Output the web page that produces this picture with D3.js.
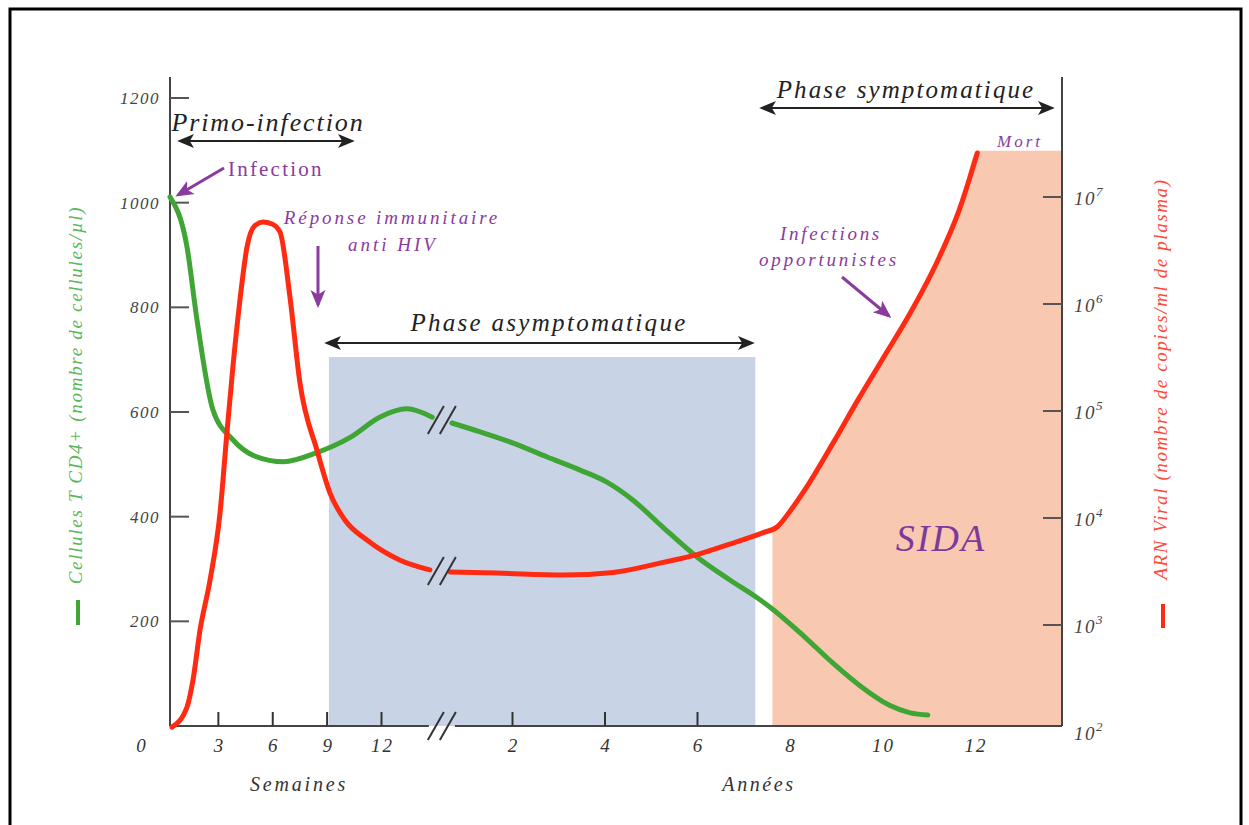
<!DOCTYPE html>
<html>
<head>
<meta charset="utf-8">
<script src="https://cdn.jsdelivr.net/npm/d3@7"></script>
<style>
body { margin: 0; background: #fff; }
text { font-family: "Liberation Serif", "DejaVu Serif", serif; }
</style>
</head>
<body>
<div id="chart"></div>
<script>
// ticks / labels
var weekTicks = [3, 6, 9, 12];
var weekLabels = [0, 3, 6, 9, 12];
var yearTicks = [2, 4, 6];
var yearLabels = [2, 4, 6, 8, 10, 12];
var cd4Ticks = [200, 400, 600, 800, 1000, 1200];
var rnaExponents = [3, 4, 5, 6, 7];

// CD4 T cells (cells/µl): [time, value]
var cd4Weeks = [[0.33, 1011], [1.27, 915], [1.82, 776], [2.7, 604], [3.8, 547], [5.0, 516],
    [6.6, 505], [8.4, 522], [10.3, 552], [11.9, 590], [13.4, 606], [14.8, 590]];
var cd4Years = [[0.69, 579], [1.3, 562], [2.0, 541], [2.75, 514], [3.46, 489], [4.04, 466],
    [4.6, 432], [5.25, 380], [5.99, 323], [6.7, 279], [7.29, 245], [7.57, 227], [8.32, 170],
    [8.93, 120], [9.54, 75], [10.14, 40], [10.6, 25], [10.98, 21]];

// viral RNA (copies/ml): [time, value]
var rnaWeeks = [[0.44, 111], [1.27, 171], [1.6, 306], [1.99, 900], [2.54, 2630], [3.09, 11100],
    [3.47, 62000], [3.8, 257000], [4.19, 1090000], [4.58, 3410000], [5.0, 5370000], [5.46, 5830000],
    [5.96, 5600000], [6.4, 4710000], [6.95, 1160000], [7.5, 183000], [8.44, 43000], [9.16, 17100],
    [9.98, 9570], [11.2, 6220], [13.0, 4050], [14.67, 3270]];
var rnaYears = [[0.65, 3130], [1.66, 3060], [3.1, 2930], [4.18, 3100], [5.26, 3850], [5.99, 4550],
    [6.7, 5700], [7.42, 7300], [7.72, 8240], [8.02, 11900], [8.32, 18300], [8.93, 50100],
    [9.47, 127000], [9.99, 300000], [10.6, 824000], [11.2, 2580000], [11.66, 7570000], [12.05, 25800000]];

var deathLevel = 27000000;
var asymptomatic = { fromWeek: 9.1, toYear: 7.25, top: 705 };
var aidsFromYear = 7.62;

var W = 1249, H = 825;
var axisLeft = 170, axisRight = 1062, axisBottom = 726, axisTop = 77;

var svg = d3.select("#chart").append("svg")
    .attr("width", W)
    .attr("height", H);

svg.append("rect").attr("width", W).attr("height", H).attr("fill", "#fff");
svg.append("rect")
    .attr("x", 10).attr("y", 9).attr("width", 1231).attr("height", 840)
    .attr("fill", "none").attr("stroke", "#000").attr("stroke-width", 3);

var xW = d3.scaleLinear().domain([0, 12]).range([164, 381.5]);
var xY = d3.scaleLinear().domain([0, 12]).range([420, 975]);
var yL = d3.scaleLinear().domain([0, 1200]).range([axisBottom, 98]);
var yR = d3.scaleLog().domain([1e3, 1e7]).range([625, 197]);

var breakX = (xW(14.8) + xY(0.68)) / 2;

var defs = svg.append("defs");
function marker(id, color, w, h) {
    defs.append("marker")
        .attr("id", id)
        .attr("viewBox", "0 0 12 10")
        .attr("refX", 10).attr("refY", 5)
        .attr("markerUnits", "userSpaceOnUse")
        .attr("markerWidth", w).attr("markerHeight", h)
        .attr("orient", "auto-start-reverse")
        .append("path")
        .attr("d", "M0,0 L12,5 L0,10 L3,5 Z")
        .attr("fill", color);
}
marker("headBlack", "#222", 18, 14);
marker("headPurple", "#8b3a9e", 18, 16);

defs.append("clipPath").attr("id", "aidsClip")
    .append("rect")
    .attr("x", xY(aidsFromYear)).attr("y", 0)
    .attr("width", axisRight - xY(aidsFromYear)).attr("height", axisBottom);

// helper for the italic serif labels
function label(x, y, txt, size, color, spacing, anchor, italic) {
    return svg.append("text")
        .attr("x", x).attr("y", y)
        .attr("text-anchor", anchor || "middle")
        .attr("font-size", size)
        .attr("font-style", italic === false ? "normal" : "italic")
        .attr("letter-spacing", spacing)
        .attr("fill", color)
        .text(txt);
}

// background phases
svg.append("rect")
    .attr("x", xW(asymptomatic.fromWeek))
    .attr("y", yL(asymptomatic.top))
    .attr("width", xY(asymptomatic.toYear) - xW(asymptomatic.fromWeek))
    .attr("height", axisBottom - yL(asymptomatic.top))
    .attr("fill", "#c9d3e6");

var pinkData = rnaYears.slice(0, -1).concat([[12.05, deathLevel], [xY.invert(axisRight), deathLevel]]);
svg.append("path")
    .datum(pinkData)
    .attr("clip-path", "url(#aidsClip)")
    .attr("fill", "#f9c8b1")
    .attr("d", d3.area()
        .x(function(d) { return xY(d[0]); })
        .y0(axisBottom)
        .y1(function(d) { return yR(d[1]); })
        .curve(d3.curveMonotoneX));

label(941, 551, "SIDA", 38, "#7d3a9c", 2);

// axes
var axisColor = "#444";
svg.append("line").attr("x1", axisLeft).attr("x2", axisLeft).attr("y1", axisTop).attr("y2", axisBottom)
    .attr("stroke", axisColor).attr("stroke-width", 2);
svg.append("line").attr("x1", axisRight).attr("x2", axisRight).attr("y1", axisTop).attr("y2", axisBottom)
    .attr("stroke", axisColor).attr("stroke-width", 2);
svg.append("line").attr("x1", axisLeft).attr("x2", breakX - 13).attr("y1", axisBottom).attr("y2", axisBottom)
    .attr("stroke", axisColor).attr("stroke-width", 2);
svg.append("line").attr("x1", breakX + 13).attr("x2", axisRight).attr("y1", axisBottom).attr("y2", axisBottom)
    .attr("stroke", axisColor).attr("stroke-width", 2);

svg.selectAll(".cd4tick").data(cd4Ticks).enter().append("line")
    .attr("x1", axisLeft).attr("x2", axisLeft + 19)
    .attr("y1", function(d) { return yL(d); }).attr("y2", function(d) { return yL(d); })
    .attr("stroke", "#555").attr("stroke-width", 2);
cd4Ticks.forEach(function(d) {
    label(160, yL(d) + 6, d, 17, "#444", 1.5, "end");
});

svg.selectAll(".rnatick").data(rnaExponents).enter().append("line")
    .attr("x1", axisRight - 19).attr("x2", axisRight)
    .attr("y1", function(d) { return yR(Math.pow(10, d)); }).attr("y2", function(d) { return yR(Math.pow(10, d)); })
    .attr("stroke", "#555").attr("stroke-width", 2);
var rnaLab = svg.selectAll(".rnalabel").data(rnaExponents.concat([2])).enter().append("text")
    .attr("x", 1074).attr("y", function(d) { return yR(Math.pow(10, d)) + 8; })
    .attr("font-size", 19).attr("font-style", "italic").attr("letter-spacing", 1.5).attr("fill", "#444");
rnaLab.append("tspan").text("10");
rnaLab.append("tspan").attr("dy", -9).attr("font-size", 13).text(function(d) { return d; });

svg.selectAll(".wtick").data(weekTicks).enter().append("line")
    .attr("x1", function(d) { return xW(d); }).attr("x2", function(d) { return xW(d); })
    .attr("y1", axisBottom).attr("y2", axisBottom - 14)
    .attr("stroke", "#333").attr("stroke-width", 2);
svg.selectAll(".ytick").data(yearTicks).enter().append("line")
    .attr("x1", function(d) { return xY(d); }).attr("x2", function(d) { return xY(d); })
    .attr("y1", axisBottom).attr("y2", axisBottom - 14)
    .attr("stroke", "#333").attr("stroke-width", 2);
weekLabels.forEach(function(d) {
    label(d === 0 ? 142 : xW(d) + 1, 752, d, 19, "#333", 2);
});
yearLabels.forEach(function(d) {
    label(xY(d) + 1, 752, d, 19, "#333", 2);
});

label(299, 791, "Semaines", 20, "#333", 2.8);
label(759, 791, "Années", 20, "#333", 2.6);

// axis titles
label(0, 0, "Cellules T CD4+ (nombre de cellules/µl)", 19, "#5cb85c", 1.7)
    .attr("transform", "translate(82,395) rotate(-90)");
svg.append("line").attr("x1", 78).attr("x2", 78).attr("y1", 600).attr("y2", 625)
    .attr("stroke", "#3fa535").attr("stroke-width", 4);
label(0, 0, "ARN Viral (nombre de copies/ml de plasma)", 19, "#ff4a3a", 1.6)
    .attr("transform", "translate(1167,379) rotate(-90)");
svg.append("line").attr("x1", 1163).attr("x2", 1163).attr("y1", 604).attr("y2", 628)
    .attr("stroke", "#ff2a12").attr("stroke-width", 4);

// curves
function drawCurve(data, xs, ys, color) {
    svg.append("path")
        .datum(data)
        .attr("fill", "none")
        .attr("stroke", color)
        .attr("stroke-width", 5)
        .attr("stroke-linecap", "round")
        .attr("d", d3.line()
            .x(function(d) { return xs(d[0]); })
            .y(function(d) { return ys(d[1]); })
            .curve(d3.curveMonotoneX));
}
drawCurve(cd4Weeks, xW, yL, "#3fa535");
drawCurve(cd4Years, xY, yL, "#3fa535");
drawCurve(rnaWeeks, xW, yR, "#ff2a12");
drawCurve(rnaYears, xY, yR, "#ff2a12");

// break marks
function breakMark(cx, cy) {
    [-6, 6].forEach(function(o) {
        svg.append("line")
            .attr("x1", cx + o - 8).attr("y1", cy + 14)
            .attr("x2", cx + o + 8).attr("y2", cy - 14)
            .attr("stroke", "#333").attr("stroke-width", 2);
    });
}
breakMark(breakX, axisBottom);
breakMark(breakX, (yL(cd4Weeks[cd4Weeks.length - 1][1]) + yL(cd4Years[0][1])) / 2);
breakMark(breakX, (yR(rnaWeeks[rnaWeeks.length - 1][1]) + yR(rnaYears[0][1])) / 2);

// phase arrows
function phaseArrow(x1, x2, y, txt, lx, ly, size, spacing) {
    svg.append("line")
        .attr("x1", x1).attr("x2", x2).attr("y1", y).attr("y2", y)
        .attr("stroke", "#222").attr("stroke-width", 2)
        .attr("marker-start", "url(#headBlack)")
        .attr("marker-end", "url(#headBlack)");
    label(lx, ly, txt, size, "#222", spacing);
}
phaseArrow(180, 352, 141, "Primo-infection", 268, 131, 26, 1.9);
phaseArrow(327, 752, 343, "Phase asymptomatique", 549, 331, 25, 2.3);
phaseArrow(762, 1052, 108, "Phase symptomatique", 906, 98, 25, 2.1);

// purple annotations
var purple = "#8b3a9e";
function pArrow(x1, y1, x2, y2) {
    svg.append("line")
        .attr("x1", x1).attr("y1", y1).attr("x2", x2).attr("y2", y2)
        .attr("stroke", purple).attr("stroke-width", 3)
        .attr("marker-end", "url(#headPurple)");
}
label(228, 176, "Infection", 21, purple, 2.2, "start", false);
pArrow(224, 168, 178, 195);

label(392, 224, "Réponse immunitaire", 19, purple, 2.9);
label(393, 251, "anti HIV", 19, purple, 3);
pArrow(318, 246, 318, 305);

label(831, 240, "Infections", 19, purple, 2.7);
label(829, 266, "opportunistes", 19, purple, 2.8);
pArrow(842, 277, 889, 316);

label(1020, 147, "Mort", 17, purple, 3);
</script>
</body>
</html>
